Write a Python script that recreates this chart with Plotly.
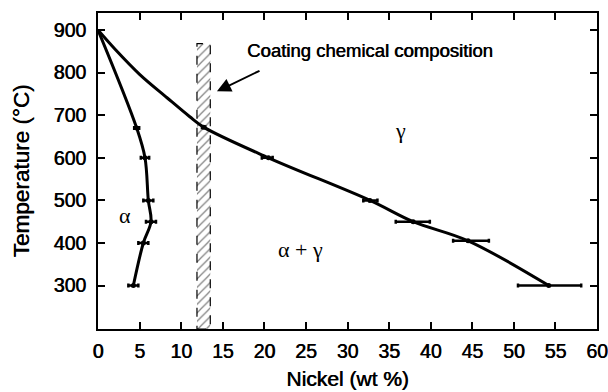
import plotly.graph_objects as go

# alpha boundary (line)
alpha_ni = [0, 4.65, 5.65, 6.05, 6.37, 5.45, 4.25]
alpha_t = [900, 670, 600, 500, 450, 400, 300]
# alpha measured points with error
alpha_pts_ni = [4.65, 5.65, 6.05, 6.37, 5.45, 4.25]
alpha_pts_t = [670, 600, 500, 450, 400, 300]
alpha_err = [0.3, 0.5, 0.6, 0.6, 0.6, 0.6]

# gamma boundary (line)
gamma_ni = [0, 2.0, 5.0, 8.3, 11.0, 12.7, 20.5, 32.7, 37.9, 44.5, 54.2]
gamma_t = [900, 856, 796, 741, 697, 672, 600, 500, 450, 405, 300]
gamma_pts_ni = [12.7, 20.5, 32.7, 37.9, 44.5, 54.2]
gamma_pts_t = [672, 600, 500, 450, 405, 300]
gamma_err_plus = [0.2, 0.5, 0.9, 2.0, 2.5, 3.9]
gamma_err_minus = [0.2, 0.8, 0.8, 2.1, 1.8, 3.7]

# coating composition band
band_ni = [11.9, 13.5]
band_t = [198, 868]

x_ticks = list(range(0, 61, 5))
y_ticks = [300, 400, 500, 600, 700, 800, 900]

FONT = "Liberation Sans, Arial, sans-serif"
SH = "0.6px 0px 0px black"

fig = go.Figure()

fig.add_trace(go.Scatter(
    x=[band_ni[0], band_ni[1], band_ni[1], band_ni[0], band_ni[0]],
    y=[band_t[0], band_t[0], band_t[1], band_t[1], band_t[0]],
    mode="lines", fill="toself",
    fillcolor="white",
    fillpattern=dict(shape="/", fgcolor="black", bgcolor="white", size=6, solidity=0.2),
    line=dict(color="black", width=1.2, dash="dash"),
    hoverinfo="skip", showlegend=False))

fig.add_trace(go.Scatter(x=alpha_ni, y=alpha_t, mode="lines",
                         line=dict(color="black", width=3, shape="spline", smoothing=1.0),
                         showlegend=False))
fig.add_trace(go.Scatter(x=gamma_ni, y=gamma_t, mode="lines",
                         line=dict(color="black", width=3, shape="spline", smoothing=1.0),
                         showlegend=False))

fig.add_trace(go.Scatter(x=alpha_pts_ni, y=alpha_pts_t, mode="markers",
                         marker=dict(color="black", size=5, symbol="circle"),
                         error_x=dict(type="data", array=alpha_err, color="black", thickness=2.5, width=2),
                         showlegend=False))
fig.add_trace(go.Scatter(x=gamma_pts_ni, y=gamma_pts_t, mode="markers",
                         marker=dict(color="black", size=5, symbol="circle"),
                         error_x=dict(type="data", symmetric=False, array=gamma_err_plus,
                                      arrayminus=gamma_err_minus, color="black", thickness=2.5, width=2),
                         showlegend=False))

fig.add_annotation(x=14.3, y=756, ax=19.6, ay=806, xref="x", yref="y", axref="x", ayref="y",
                   text="", showarrow=True, arrowhead=2, arrowsize=1.4, arrowwidth=2, arrowcolor="black")
fig.add_annotation(x=17.7, y=851, xref="x", yref="y", text="Coating chemical composition",
                   showarrow=False, xanchor="left",
                   font=dict(family=FONT, size=18.5, color="black", shadow=SH))
fig.add_annotation(x=36.4, y=663, text="γ", showarrow=False,
                   font=dict(family="Liberation Serif, serif", size=22, color="black"))
fig.add_annotation(x=3.3, y=465, text="α", showarrow=False,
                   font=dict(family="Liberation Serif, serif", size=22, color="black"))
fig.add_annotation(x=24.3, y=385, text="α + γ", showarrow=False,
                   font=dict(family="Liberation Serif, serif", size=22, color="black"))

axis_common = dict(showgrid=False, zeroline=False, showline=True, linecolor="black", linewidth=2,
                   mirror="ticks", ticks="inside", ticklen=7, tickwidth=2, tickcolor="black",
                   automargin=False,
                   tickfont=dict(family=FONT, size=19.5, color="black", shadow=SH))

fig.update_xaxes(range=[0, 60], tickvals=x_ticks, ticklabelstandoff=4,
                 title=dict(text="Nickel (wt %)", standoff=10,
                            font=dict(family=FONT, size=21, color="black", shadow=SH)),
                 **axis_common)
fig.update_yaxes(range=[198, 940], tickvals=y_ticks, ticklabelstandoff=6,
                 title=dict(text="Temperature (°C)", standoff=18,
                            font=dict(family=FONT, size=22.5, color="black", shadow=SH)),
                 **axis_common)

fig.update_layout(width=608, height=392, margin=dict(l=98, r=11, t=13, b=63),
                  plot_bgcolor="white", paper_bgcolor="white", showlegend=False)

fig.write_html("out.html")
